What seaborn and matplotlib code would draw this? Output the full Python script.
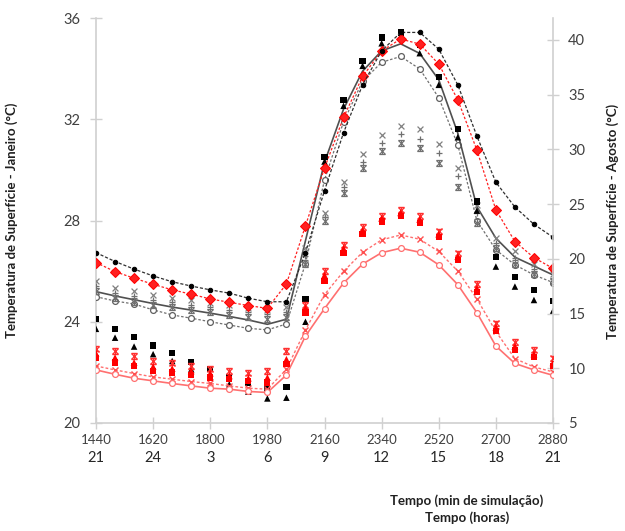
import matplotlib
matplotlib.use("Agg")
import matplotlib.pyplot as plt
import seaborn as sns
import pandas as pd

# ---------------- data ----------------
minutes = [1440, 1500, 1560, 1620, 1680, 1740, 1800, 1860, 1920, 1980, 2040, 2100,
           2160, 2220, 2280, 2340, 2400, 2460, 2520, 2580, 2640, 2700, 2760, 2820, 2880]
tick_minutes = [1440, 1620, 1800, 1980, 2160, 2340, 2520, 2700, 2880]
tick_hours = ["21", "24", "3", "6", "9", "12", "15", "18", "21"]
left_ticks = [20, 24, 28, 32, 36]
right_ticks = [5, 10, 15, 20, 25, 30, 35, 40]

# Janeiro (left axis)
jan_black_dot = [26.73, 26.38, 26.08, 25.81, 25.58, 25.41, 25.26, 25.13, 24.93, 24.79, 24.79, 26.73,
                 29.18, 31.47, 33.36, 34.70, 35.43, 35.43, 34.77, 33.36, 31.34, 29.51, 28.53, 27.85, 27.34]
jan_red_diamond = [26.34, 25.98, 25.72, 25.48, 25.26, 25.09, 24.90, 24.77, 24.64, 24.53, 25.49, 27.79,
                   30.07, 32.07, 33.69, 34.70, 35.17, 34.97, 34.18, 32.77, 30.79, 28.42, 27.17, 26.53, 26.11]
jan_gray_line = [25.19, 25.02, 24.87, 24.72, 24.58, 24.46, 24.34, 24.21, 24.07, 23.90, 24.10, 27.20,
                 30.30, 32.40, 33.90, 34.70, 34.98, 34.60, 33.56, 31.45, 28.55, 27.30, 26.55, 26.20, 25.85]
jan_gray_circle = [24.99, 24.82, 24.70, 24.47, 24.27, 24.14, 24.00, 23.87, 23.74, 23.68, 23.91, 26.30,
                   29.60, 31.90, 33.50, 34.25, 34.48, 33.99, 32.85, 30.99, 28.00, 26.84, 26.25, 25.85, 25.55]
jan_gray_x = [25.60, 25.35, 25.20, 25.05, 24.95, 24.85, 24.75, 24.65, 24.55, 24.45, 24.60, 26.90,
              28.29, 29.54, 30.62, 31.38, 31.74, 31.61, 31.03, 30.09, 28.60, 27.30, 26.80, 26.30, 25.90]
jan_gray_plus = [25.40, 25.15, 25.00, 24.87, 24.77, 24.67, 24.57, 24.47, 24.37, 24.30, 24.40, 26.60,
                 28.15, 29.34, 30.33, 31.05, 31.41, 31.21, 30.66, 29.74, 28.30, 27.10, 26.50, 26.10, 25.70]
jan_gray_err = [25.20, 24.95, 24.80, 24.68, 24.58, 24.48, 24.38, 24.28, 24.18, 24.10, 24.20, 26.30,
                28.00, 29.10, 30.07, 30.76, 31.05, 30.86, 30.26, 29.34, 27.92, 26.90, 26.30, 25.90, 25.60]
jan_black_sq = [24.10, 23.70, 23.39, 23.06, 22.75, 22.42, 22.12, 21.83, 21.59, 21.33, 21.41, 24.89,
                30.50, 32.77, 34.31, 35.23, 35.43, 34.94, 33.66, 31.62, 28.75, 26.55, 25.78, 25.26, 24.83]
jan_black_tri = [23.72, 23.37, 23.02, 22.72, 22.45, 22.12, 21.83, 21.53, 21.24, 20.97, 21.00, 24.00,
                 30.33, 32.53, 34.11, 35.00, 35.27, 34.61, 33.36, 31.29, 28.39, 26.18, 25.39, 24.86, 24.43]

# Agosto (right axis)
ago_red_circle = [9.85, 9.45, 9.09, 8.85, 8.61, 8.39, 8.18, 8.09, 7.88, 7.79, 9.39, 12.94,
                  15.45, 17.79, 19.52, 20.56, 20.97, 20.60, 19.45, 17.64, 15.09, 12.03, 10.44, 9.85, 9.36]
ago_red_star = [10.21, 9.85, 9.52, 9.21, 9.00, 8.79, 8.61, 8.39, 8.18, 8.09, 9.91, 13.50,
                16.73, 18.85, 20.60, 21.73, 22.18, 21.79, 20.67, 18.88, 16.35, 13.36, 10.88, 10.12, 9.67]
ago_red_err = [11.80, 11.57, 11.12, 10.66, 10.52, 10.21, 9.97, 9.75, 9.61, 9.75, 11.57, 15.80,
               18.90, 21.30, 22.90, 23.95, 24.50, 23.90, 22.50, 20.50, 17.70, 14.10, 12.40, 11.70, 10.90]
ago_red_tri = [11.36, 10.97, 10.52, 10.15, 9.97, 9.75, 9.55, 9.30, 9.09, 9.15, 10.82, 15.50,
               18.50, 20.95, 22.60, 23.70, 24.20, 23.60, 22.25, 20.20, 17.30, 13.75, 12.00, 11.30, 10.50]
ago_red_sq = [10.97, 10.52, 10.21, 9.75, 9.61, 9.36, 9.15, 9.00, 8.85, 8.70, 10.36, 15.10,
              18.00, 20.55, 22.30, 23.40, 23.90, 23.30, 22.00, 19.90, 17.00, 13.40, 11.70, 11.00, 10.20]

df = pd.DataFrame({
    "t": minutes,
    "jan_black_dot": jan_black_dot, "jan_red_diamond": jan_red_diamond,
    "jan_gray_line": jan_gray_line, "jan_gray_circle": jan_gray_circle,
    "jan_gray_x": jan_gray_x, "jan_gray_plus": jan_gray_plus, "jan_gray_err": jan_gray_err,
    "jan_black_sq": jan_black_sq, "jan_black_tri": jan_black_tri,
    "ago_red_circle": ago_red_circle, "ago_red_star": ago_red_star, "ago_red_err": ago_red_err,
    "ago_red_tri": ago_red_tri, "ago_red_sq": ago_red_sq,
})

# ---------------- style ----------------
sns.set_theme(style="white")
plt.rcParams["font.family"] = ["Lato", "DejaVu Sans"]
TXT = "#404040"
AXC = "#d0d0d0"

fig = plt.figure(figsize=(6.25, 5.31), dpi=100)
ax = fig.add_axes([96 / 625, 1 - 423 / 531, (553 - 96) / 625, (423 - 18) / 531])
ax2 = ax.twinx()

# ---------------- right axis (Agosto) ----------------
ax2.errorbar(df["t"], df["ago_red_err"], yerr=0.25, fmt="x", color="#ff3030", ms=4,
             mew=1, capsize=2, elinewidth=0.8, zorder=3)
sns.scatterplot(data=df, x="t", y="ago_red_sq", ax=ax2, marker="s", color="#ff0000", s=20,
                edgecolor="none", zorder=4)
sns.scatterplot(data=df, x="t", y="ago_red_tri", ax=ax2, marker="^", color="#ff0000", s=24,
                edgecolor="none", zorder=4)
sns.lineplot(data=df, x="t", y="ago_red_star", ax=ax2, color="#ff7070", lw=1.0,
             linestyle=(0, (2, 1.5)), marker="x", markersize=4.2, mew=1.0,
             markeredgecolor="#ff5050", zorder=3)
sns.lineplot(data=df, x="t", y="ago_red_circle", ax=ax2, color="#ff7070", lw=1.2,
             marker="o", markersize=4.2, markerfacecolor="white", markeredgecolor="#ff7070",
             mew=0.9, zorder=3)

# ---------------- left axis (Janeiro) ----------------
sns.lineplot(data=df, x="t", y="jan_gray_circle", ax=ax, color="#707070", lw=0.9,
             linestyle=(0, (2, 1.5)), marker="o", markersize=4.2, markerfacecolor="white",
             markeredgecolor="#606060", mew=0.9, zorder=3)
sns.lineplot(data=df, x="t", y="jan_gray_line", ax=ax, color="#505050", lw=1.2, zorder=3)
ax.errorbar(df["t"], df["jan_gray_err"], yerr=0.12, fmt="x", color="#707070", ms=3.8,
            mew=0.9, capsize=2, elinewidth=0.8, zorder=3)
sns.scatterplot(data=df, x="t", y="jan_gray_plus", ax=ax, marker="+", color="#707070", s=20,
                linewidth=0.9, zorder=3)
sns.scatterplot(data=df, x="t", y="jan_gray_x", ax=ax, marker="x", color="#808080", s=18,
                linewidth=0.9, zorder=3)
sns.scatterplot(data=df, x="t", y="jan_black_tri", ax=ax, marker="^", color="black", s=22,
                edgecolor="none", zorder=4)
sns.scatterplot(data=df, x="t", y="jan_black_sq", ax=ax, marker="s", color="black", s=20,
                edgecolor="none", zorder=4)
sns.lineplot(data=df, x="t", y="jan_red_diamond", ax=ax, color="#ff2020", lw=0.9,
             linestyle=(0, (2, 1.5)), marker="D", markersize=5.2, markeredgecolor="#ff0000",
             zorder=5)
sns.lineplot(data=df, x="t", y="jan_black_dot", ax=ax, color="#303030", lw=0.9,
             linestyle=(0, (2.5, 1.5)), marker="o", markersize=3.2, markeredgecolor="black",
             markerfacecolor="black", zorder=5)

# ---------------- axes formatting ----------------
ax.set_xlim(1440, 2880)
ax.set_ylim(20, 36)
ax2.set_ylim(5, 42)
ax.set_xlabel("")
ax.set_ylabel("")
ax2.set_ylabel("")

ax.set_yticks(left_ticks)
ax.set_yticklabels([str(v) for v in left_ticks])
ax2.set_yticks(right_ticks)
ax2.set_yticklabels([str(v) for v in right_ticks])
ax.set_xticks(tick_minutes)
ax.set_xticklabels([str(v) for v in tick_minutes])

for a in (ax, ax2):
    for s in a.spines.values():
        s.set_color(AXC)
        s.set_linewidth(1.2)
    a.spines["top"].set_visible(False)
ax.spines["right"].set_visible(False)
ax2.spines["left"].set_visible(False)
ax2.spines["bottom"].set_visible(False)

ax.tick_params(axis="y", direction="inout", length=8, width=1, color=AXC,
               labelsize=10.5, labelcolor=TXT, pad=7, left=True)
ax2.tick_params(axis="y", direction="inout", length=8, width=1, color=AXC,
                labelsize=10.5, labelcolor=TXT, pad=7, right=True)
ax.tick_params(axis="x", direction="inout", length=8, width=1, color=AXC,
               labelsize=9.5, labelcolor=TXT, pad=4, bottom=True)

sec = ax.secondary_xaxis("bottom")
sec.set_xticks(tick_minutes)
sec.set_xticklabels(tick_hours)
sec.tick_params(length=0, pad=20, labelsize=10.5, labelcolor="#262626")
sec.spines["bottom"].set_visible(False)

fig.text(12 / 625, 1 - 220 / 531, "Temperatura de Superfície - Janeiro (°C)", rotation=90,
         ha="center", va="center", fontsize=9.5, fontweight="bold", color="#202020")
fig.text(613 / 625, 1 - 221 / 531, "Temperatura de Superfície - Agosto (°C)", rotation=90,
         ha="center", va="center", fontsize=9.5, fontweight="bold", color="#202020")
fig.text(467 / 625, 1 - 509 / 531, "Tempo (min de simulação)\nTempo (horas)",
         ha="center", va="center", multialignment="center", linespacing=1.45,
         fontsize=9.5, fontweight="bold", color="#202020")

fig.savefig("out.png", dpi=100)
